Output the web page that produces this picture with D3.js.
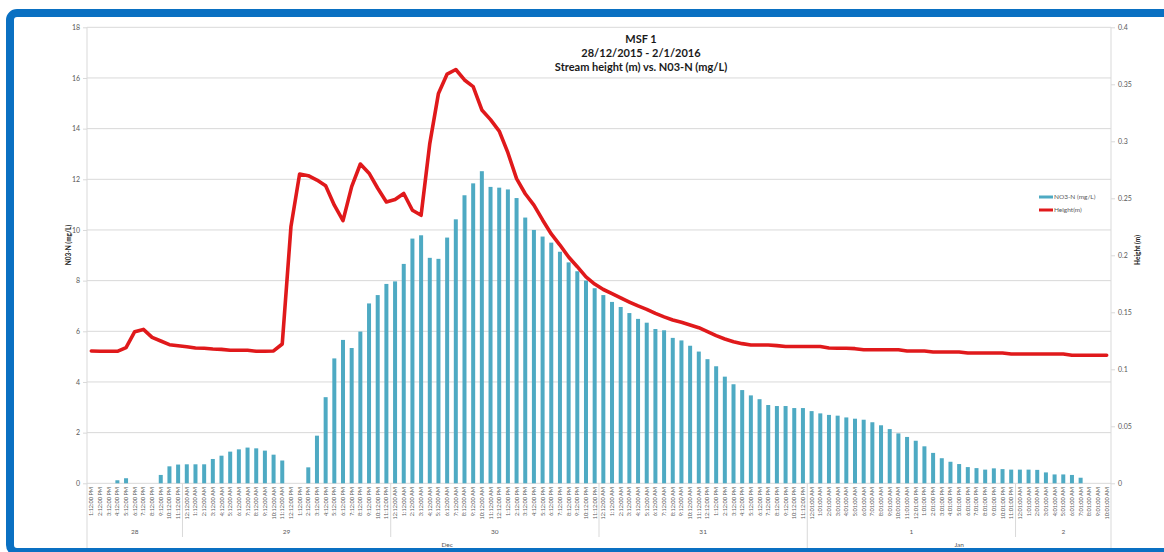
<!DOCTYPE html>
<html><head><meta charset="utf-8">
<script src="https://cdn.jsdelivr.net/npm/d3@7"></script>
<style>
html,body{margin:0;padding:0;background:#fff;}
svg{display:block;}
text{font-family:Lato,"Open Sans",sans-serif;}
</style></head>
<body>
<svg id="c" width="1164" height="552"></svg>
<script>
const titleLines = ["MSF 1", "28/12/2015 - 2/1/2016", "Stream height (m) vs. N03-N (mg/L)"];
const seriesNames = ["NO3-N (mg/L)", "Height(m)"];
const leftTitle = "N03-N (mg/L)";
const rightTitle = "Height (m)";
const leftTicks = [0,2,4,6,8,10,12,14,16,18];
const rightTicks = [0,0.05,0.1,0.15,0.2,0.25,0.3,0.35,0.4];
const rightTickLabels = ["0","0.05","0.1","0.15","0.2","0.25","0.3","0.35","0.4"];
const dayLabels = ["28","29","30","31","1","2"];
const dayCounts = [11,24,24,24,24,11];
const monthLabels = ["Dec","Jan"];
const monthDayCounts = [4,2];
const timeLabels = [
"1:12:00 PM","2:12:00 PM","3:12:00 PM","4:12:00 PM","5:12:00 PM","6:12:00 PM","7:12:00 PM","8:12:00 PM","9:12:00 PM","10:12:00 PM","11:12:00 PM",
"12:12:00 AM","1:12:00 AM","2:12:00 AM","3:12:00 AM","4:12:00 AM","5:12:00 AM","6:12:00 AM","7:12:00 AM","8:12:00 AM","9:12:00 AM","10:12:00 AM","11:12:00 AM",
"12:12:00 PM","1:12:00 PM","2:12:00 PM","3:12:00 PM","4:12:00 PM","5:12:00 PM","6:12:00 PM","7:12:00 PM","8:12:00 PM","9:12:00 PM","10:12:00 PM","11:12:00 PM",
"12:12:00 AM","1:12:00 AM","2:12:00 AM","3:12:00 AM","4:12:00 AM","5:12:00 AM","6:12:00 AM","7:12:00 AM","8:12:00 AM","9:12:00 AM","10:12:00 AM","11:12:00 AM",
"12:12:00 PM","1:12:00 PM","2:12:00 PM","3:12:00 PM","4:12:00 PM","5:12:00 PM","6:12:00 PM","7:12:00 PM","8:12:00 PM","9:12:00 PM","10:12:00 PM","11:12:00 PM",
"12:12:00 AM","1:12:00 AM","2:12:00 AM","3:12:00 AM","4:12:00 AM","5:12:00 AM","6:12:00 AM","7:12:00 AM","8:12:00 AM","9:12:00 AM","10:12:00 AM","11:12:00 AM",
"12:12:00 PM","1:12:00 PM","2:12:00 PM","3:12:00 PM","4:12:00 PM","5:12:00 PM","6:12:00 PM","7:12:00 PM","8:12:00 PM","9:12:00 PM","10:12:00 PM","11:12:00 PM",
"12:01:00 AM","1:01:00 AM","2:01:00 AM","3:01:00 AM","4:01:00 AM","5:01:00 AM","6:01:00 AM","7:01:00 AM","8:01:00 AM","9:01:00 AM","10:01:00 AM","11:01:00 AM",
"12:01:00 PM","1:01:00 PM","2:01:00 PM","3:01:00 PM","4:01:00 PM","5:01:00 PM","6:01:00 PM","7:01:00 PM","8:01:00 PM","9:01:00 PM","10:01:00 PM","11:01:00 PM",
"12:01:00 AM","1:01:00 AM","2:01:00 AM","3:01:00 AM","4:01:00 AM","5:01:00 AM","6:01:00 AM","7:01:00 AM","8:01:00 AM","9:01:00 AM","10:01:00 AM"
];
const no3Values = [
0,0,0,0.12,0.2,0,0,0,0.33,0.67,0.74,
0.75,0.75,0.75,0.96,1.09,1.25,1.34,1.41,1.38,1.29,1.13,0.9,
0,0,0.63,1.88,3.4,4.93,5.66,5.34,5.99,7.1,7.43,7.87,
7.97,8.66,9.66,9.79,8.9,8.86,9.7,10.42,11.37,11.84,12.32,11.7,
11.67,11.6,11.26,10.49,10.0,9.74,9.5,9.14,8.72,8.37,8.0,7.7,
7.43,7.16,6.96,6.72,6.49,6.34,6.09,6.04,5.74,5.64,5.43,5.2,
4.9,4.62,4.21,3.91,3.68,3.47,3.32,3.09,3.05,3.05,2.97,2.97,
2.85,2.76,2.7,2.67,2.6,2.55,2.51,2.41,2.29,2.14,1.97,1.83,
1.68,1.46,1.2,0.99,0.85,0.76,0.64,0.6,0.54,0.59,0.56,0.54,
0.54,0.54,0.53,0.43,0.35,0.35,0.33,0.22,0,0,0
];
const heightValues = [
0.116,0.1158,0.1158,0.1158,0.119,0.133,0.135,0.128,0.1248,0.1216,0.1207,
0.1198,0.1187,0.1184,0.1178,0.1175,0.1167,0.1167,0.1167,0.1158,0.1158,0.1161,0.1222,
0.225,0.2713,0.2698,0.266,0.261,0.244,0.2304,0.2602,0.2801,0.272,0.2588,0.2468,
0.2489,0.2542,0.2395,0.2351,0.298,0.342,0.359,0.363,0.3538,0.348,0.3275,0.319,
0.309,0.29,0.2673,0.254,0.244,0.231,0.2187,0.209,0.1985,0.19,0.181,0.1748,
0.17,0.1664,0.1626,0.159,0.1556,0.1526,0.149,0.146,0.1433,0.1412,0.1389,0.1365,
0.133,0.1295,0.1266,0.1242,0.1225,0.1213,0.1213,0.1213,0.1208,0.12,0.12,0.12,
0.12,0.12,0.1187,0.1184,0.1184,0.1181,0.1172,0.1172,0.1172,0.1172,0.1172,0.1161,
0.1161,0.116,0.1152,0.1152,0.1152,0.1152,0.1143,0.1143,0.1143,0.1143,0.1143,0.1134,
0.1134,0.1134,0.1134,0.1134,0.1134,0.1134,0.1123,0.1123,0.1123,0.1123,0.1123
];

const svg = d3.select("#c");
const L = 87, R = 1111, T = 27.3, B = 483.3;
const idx = d3.range(timeLabels.length);
const x = d3.scaleBand().domain(idx).range([L, R]).paddingInner(0).paddingOuter(0);
const yL = d3.scaleLinear().domain([0, 18]).range([B, T]);
const yR = d3.scaleLinear().domain([0, 0.4]).range([B, T]);
const grey = "#595959";

// frame
svg.append("rect").attr("x", 10).attr("y", 13).attr("width", 1170).attr("height", 539)
  .attr("rx", 7).attr("fill", "none").attr("stroke", "#0a70c2").attr("stroke-width", 8);

// gridlines
svg.append("g").selectAll("line").data(leftTicks.slice(1)).join("line")
  .attr("x1", L).attr("x2", R).attr("y1", d => yL(d)).attr("y2", d => yL(d))
  .attr("stroke", "#d9d9d9").attr("stroke-width", 1);

// left axis
const gl = svg.append("g").attr("transform", `translate(${L},0)`)
  .call(d3.axisLeft(yL).tickValues(leftTicks).tickSize(4).tickPadding(3).tickFormat(d3.format("d")));
gl.select(".domain").remove();
gl.selectAll(".tick line").attr("stroke", "#d9d9d9");
gl.selectAll("text").attr("fill", grey).style("font-size", "7px");

// right axis
const gr = svg.append("g").attr("transform", `translate(${R},0)`)
  .call(d3.axisRight(yR).tickValues(rightTicks).tickSize(4).tickPadding(3).tickFormat((d,i) => rightTickLabels[i]));
gr.select(".domain").remove();
gr.selectAll(".tick line").attr("stroke", "#d9d9d9");
gr.selectAll("text").attr("fill", grey).style("font-size", "7px");

// vertical axis lines extended down
svg.append("line").attr("x1", L).attr("x2", L).attr("y1", T).attr("y2", 548).attr("stroke", "#d9d9d9");
svg.append("line").attr("x1", R).attr("x2", R).attr("y1", T).attr("y2", 548).attr("stroke", "#d9d9d9");
svg.append("line").attr("x1", L).attr("x2", R).attr("y1", B).attr("y2", B).attr("stroke", "#d9d9d9");

// bars
const bw = 4;
svg.append("g").selectAll("rect").data(no3Values).join("rect")
  .attr("x", (d,i) => x(i) + x.bandwidth()/2 - bw/2)
  .attr("width", bw)
  .attr("y", d => yL(d))
  .attr("height", d => yL(0) - yL(d))
  .attr("fill", "#4eaac3");

// line
const line = d3.line().x((d,i) => x(i) + x.bandwidth()/2).y(d => yR(d));
svg.append("path").datum(heightValues).attr("d", line)
  .attr("fill", "none").attr("stroke", "#e0191b").attr("stroke-width", 3.6)
  .attr("stroke-linejoin", "round").attr("stroke-linecap", "round");

// category labels
svg.append("g").selectAll("text").data(timeLabels).join("text")
  .attr("transform", (d,i) => `translate(${x(i) + x.bandwidth()/2 + 2},487) rotate(-90)`)
  .attr("text-anchor", "end").attr("fill", grey).style("font-size", "5.6px").text(d => d);

// day groups
let start = 0;
const dayG = svg.append("g");
dayLabels.forEach((lab, k) => {
  const s = start, e = start + dayCounts[k];
  const x0 = x(s), x1 = e < timeLabels.length ? x(e) : R;
  if (k > 0) dayG.append("line").attr("x1", x0).attr("x2", x0).attr("y1", B).attr("y2", 537).attr("stroke", "#d9d9d9");
  dayG.append("text").attr("x", (x0 + x1)/2).attr("y", 534).attr("text-anchor", "middle")
    .attr("fill", grey).style("font-size", "6.5px").text(lab);
  start = e;
});
// month groups
let dStart = 0;
monthLabels.forEach((lab, k) => {
  const s = d3.sum(dayCounts.slice(0, dStart));
  const e = d3.sum(dayCounts.slice(0, dStart + monthDayCounts[k]));
  const x0 = x(s), x1 = e < timeLabels.length ? x(e) : R;
  if (k > 0) dayG.append("line").attr("x1", x0).attr("x2", x0).attr("y1", 537).attr("y2", 548).attr("stroke", "#d9d9d9");
  dayG.append("text").attr("x", (x0 + x1)/2).attr("y", 547).attr("text-anchor", "middle")
    .attr("fill", grey).style("font-size", "6.5px").text(lab);
  dStart += monthDayCounts[k];
});

// title
svg.append("g").selectAll("text").data(titleLines).join("text")
  .attr("x", 641).attr("y", (d,i) => 43 + i*14).attr("text-anchor", "middle")
  .attr("fill", "#1a1a1a").style("font-size", "11px").style("font-weight", "bold").text(d => d);

// axis titles
svg.append("text").attr("transform", "translate(71,245) rotate(-90)").attr("text-anchor", "middle")
  .attr("fill", "#1a1a1a").style("font-size", "6.5px").style("font-weight", "bold").text(leftTitle);
svg.append("text").attr("transform", "translate(1140,250) rotate(-90)").attr("text-anchor", "middle")
  .attr("fill", "#1a1a1a").style("font-size", "6.5px").style("font-weight", "bold").text(rightTitle);

// legend
const leg = svg.append("g");
const legColors = ["#4eaac3", "#e0191b"];
seriesNames.forEach((n, i) => {
  const ly = 197 + i*13;
  leg.append("line").attr("x1", 1039).attr("x2", 1053).attr("y1", ly).attr("y2", ly)
    .attr("stroke", legColors[i]).attr("stroke-width", 3);
  leg.append("text").attr("x", 1054).attr("y", ly + 2.3).attr("fill", grey)
    .style("font-size", "6.5px").text(n);
});
</script>
</body></html>
